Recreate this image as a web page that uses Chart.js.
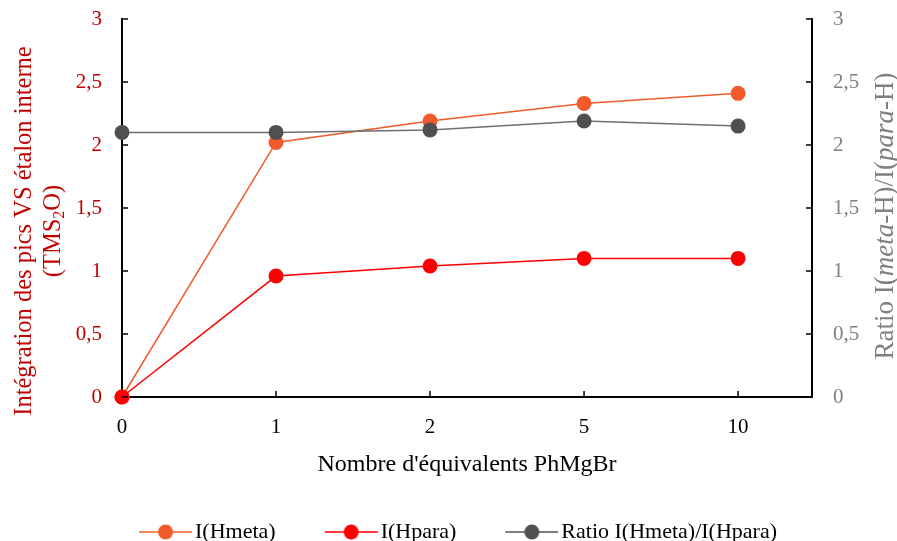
<!DOCTYPE html>
<html>
<head>
<meta charset="utf-8">
<script src="https://cdn.jsdelivr.net/npm/chart.js@4"></script>
<style>
  html, body { margin: 0; padding: 0; background: #fff; }
  #wrap { width: 897px; height: 541px; position: relative; }
</style>
</head>
<body>
<div id="wrap"><canvas id="chart"></canvas></div>
<script>
// values
const categories = ['0', '1', '2', '5', '10'];
const hmeta = [0, 2.02, 2.19, 2.33, 2.41];
const hpara = [0, 0.96, 1.04, 1.10, 1.10];
const ratio = [2.10, 2.10, 2.12, 2.19, 2.15];

const serif = "'Liberation Serif', 'DejaVu Serif', serif";
const toPoints = arr => arr.map((v, i) => ({ x: i, y: v }));
const comma = v => String(v).replace('.', ',');

// legend swatch: short line with a dot in the middle
function marker(lineColor, dotColor) {
    const c = document.createElement('canvas');
    c.width = 60; c.height = 18;
    const g = c.getContext('2d');
    g.strokeStyle = lineColor; g.lineWidth = 2;
    g.beginPath(); g.moveTo(7, 9); g.lineTo(60, 9); g.stroke();
    g.fillStyle = dotColor;
    g.beginPath(); g.arc(33.5, 9, 7.5, 0, Math.PI * 2); g.fill();
    return c;
}

// inward tick marks like the original
const innerTicks = {
    id: 'innerTicks',
    afterDatasetsDraw(chart) {
        const { ctx, chartArea: a, scales } = chart;
        ctx.save();
        ctx.strokeStyle = '#000';
        ctx.lineWidth = 1.5;
        ctx.beginPath();
        scales.y.ticks.forEach(t => {
            const p = scales.y.getPixelForValue(t.value);
            ctx.moveTo(a.left, p); ctx.lineTo(a.left + 6, p);
        });
        scales.y1.ticks.forEach(t => {
            const p = scales.y1.getPixelForValue(t.value);
            ctx.moveTo(a.right, p); ctx.lineTo(a.right - 6, p);
        });
        scales.x.ticks.forEach(t => {
            if (t.value === 0) return;
            const p = scales.x.getPixelForValue(t.value);
            ctx.moveTo(p, a.bottom); ctx.lineTo(p, a.bottom - 6);
        });
        ctx.stroke();
        ctx.restore();
    }
};

// axis titles with italics / subscript
const axisTitles = {
    id: 'axisTitles',
    afterDraw(chart) {
        const ctx = chart.ctx;
        ctx.save();
        ctx.textBaseline = 'middle';

        // left title
        ctx.translate(25, 231);
        ctx.rotate(-Math.PI / 2);
        ctx.fillStyle = '#C00000';
        ctx.font = '24.5px ' + serif;
        ctx.textAlign = 'center';
        ctx.fillText('Intégration des pics VS étalon interne', 0, 0);
        const segs = [['(TMS', 24.5, 0], ['2', 16, 6], ['O)', 24.5, 0]];
        let total = 0;
        segs.forEach(s => { ctx.font = s[1] + 'px ' + serif; total += ctx.measureText(s[0]).width; });
        let x = -total / 2;
        ctx.textAlign = 'left';
        segs.forEach(s => {
            ctx.font = s[1] + 'px ' + serif;
            ctx.fillText(s[0], x, 29 + s[2]);
            x += ctx.measureText(s[0]).width;
        });
        ctx.setTransform(1, 0, 0, 1, 0, 0);

        // right title
        ctx.translate(886, 216);
        ctx.rotate(-Math.PI / 2);
        ctx.fillStyle = '#7F7F7F';
        const parts = [['Ratio I(', ''], ['meta', 'italic '], ['-H)/I(', ''], ['para', 'italic '], ['-H)', '']];
        total = 0;
        parts.forEach(p => { ctx.font = p[1] + '27px ' + serif; total += ctx.measureText(p[0]).width; });
        x = -total / 2;
        parts.forEach(p => {
            ctx.font = p[1] + '27px ' + serif;
            ctx.fillText(p[0], x, 0);
            x += ctx.measureText(p[0]).width;
        });
        ctx.restore();
    }
};

new Chart(document.getElementById('chart'), {
    type: 'line',
    data: {
        datasets: [
            {
                label: 'I(Hmeta)', data: toPoints(hmeta), yAxisID: 'y',
                borderColor: '#F15A2B', backgroundColor: '#F15A2B', borderWidth: 1.5,
                pointRadius: 7.5, pointHoverRadius: 7.5, pointBorderWidth: 0,
                pointStyle: 'circle', order: 3, clip: false,
            },
            {
                label: 'I(Hpara)', data: toPoints(hpara), yAxisID: 'y',
                borderColor: '#FF0000', backgroundColor: '#FF0000', borderWidth: 1.5,
                pointRadius: 7.5, pointHoverRadius: 7.5, pointBorderWidth: 0,
                pointStyle: 'circle', order: 1, clip: false,
            },
            {
                label: 'Ratio I(Hmeta)/I(Hpara)', data: toPoints(ratio), yAxisID: 'y1',
                borderColor: '#6F6F6F', backgroundColor: '#505050', borderWidth: 1.5,
                pointRadius: 7.5, pointHoverRadius: 7.5, pointBorderWidth: 0,
                pointStyle: 'circle', order: 2, clip: false,
            },
        ],
    },
    options: {
        responsive: true, maintainAspectRatio: false,
        animation: false,
        layout: { padding: { top: 19, left: 20, right: 0, bottom: -12 } },
        scales: {
            x: {
                type: 'linear', min: 0, max: 4.48,
                afterBuildTicks: s => { s.ticks = s.ticks.filter(t => Number.isInteger(t.value)); },
                ticks: {
                    stepSize: 1, color: '#000', padding: 10,
                    font: { family: serif, size: 21 },
                    callback: v => categories[v] ?? '',
                },
                grid: { display: false },
                border: { display: true, color: '#000', width: 2 },
                title: {
                    display: true, text: "Nombre d'équivalents PhMgBr", color: '#000',
                    font: { family: serif, size: 24 }, padding: { top: 0, bottom: -8 },
                },
            },
            y: {
                position: 'left', min: 0, max: 3,
                afterFit: s => { s.width = 102; s.paddingTop = 0; },
                ticks: {
                    stepSize: 0.5, color: '#C00000', padding: 12,
                    font: { family: serif, size: 21 }, callback: comma,
                },
                grid: { display: false },
                border: { display: true, color: '#000', width: 2 },
            },
            y1: {
                position: 'right', min: 0, max: 3,
                afterFit: s => { s.width = 85; s.paddingTop = 0; },
                ticks: {
                    stepSize: 0.5, color: '#7F7F7F', padding: 13,
                    font: { family: serif, size: 21 }, callback: comma,
                },
                grid: { display: false },
                border: { display: true, color: '#000', width: 2 },
            },
        },
        plugins: {
            legend: {
                position: 'bottom',
                labels: {
                    color: '#000', font: { family: serif, size: 22 },
                    usePointStyle: true, pointStyleWidth: 44, padding: 50,
                    generateLabels: chart => chart.data.datasets.map((ds, i) => ({
                        text: ds.label,
                        pointStyle: marker(i === 2 ? '#7F7F7F' : (i === 0 ? '#F4875F' : '#FF4040'), ds.backgroundColor),
                        fillStyle: ds.backgroundColor, strokeStyle: ds.borderColor,
                        lineWidth: 0, hidden: false, datasetIndex: i, fontColor: '#000',
                    })),
                },
            },
            tooltip: { enabled: false },
        },
    },
    plugins: [innerTicks, axisTitles],
});
</script>
</body>
</html>
